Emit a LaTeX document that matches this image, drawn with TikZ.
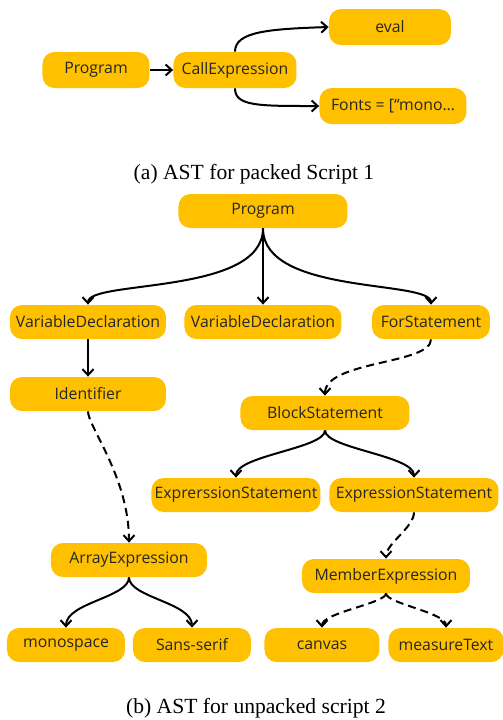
\documentclass[tikz,border=0pt]{standalone}
\usepackage{fontspec}
\setmainfont{Liberation Serif}
\newfontfamily\astfont{Open Sans}
\usepackage{tikz}
\usetikzlibrary{calc}
\usetikzlibrary{arrows.meta}

\definecolor{astgold}{HTML}{FFC000}

\begin{document}
\begin{tikzpicture}[x = 0.5pt, y = 0.5pt,
		ast/.style = {fill = astgold, rounded corners = 6pt, inner sep = 0pt, minimum height = 17pt, text = black!85, font = \astfont\fontsize{7.9}{9}\selectfont},
		edge/.style = {line width = 1pt, -{Straight Barb[length = 3pt, width = 5.5pt]}},
		dedge/.style = {edge, dash pattern = on 4pt off 2.5pt},
		caption/.style = {font = \fontsize{10.8}{12}\selectfont}]
	\useasboundingbox (0, 0) rectangle (503, -720);

	% (a) packed script
	\node[ast, minimum width = 53.5pt, minimum height = 18pt](pa) at (96, -70){Program};
	\node[ast, minimum width = 61.5pt, minimum height = 18pt](ce) at (235, -70){CallExpression};
	\node[ast, minimum width = 61pt, minimum height = 18pt](ev) at (390, -27){eval};
	\node[ast, minimum width = 73.5pt, minimum height = 18pt](fo) at (393, -106){Fonts = [“mono…};
	\draw[edge] (pa)--(ce);
	\draw[edge] (ce.north) .. controls +(0, 20) and +(-60, -2) .. (ev.west);
	\draw[edge] (ce.south) .. controls +(0, -18) and +(-60, 0) .. (fo.west);
	\node[caption](capa) at (254, -174){(a) AST for packed Script 1};

	% (b) unpacked script
	\node[ast, minimum width = 84.5pt](pb) at (263, -211){Program};
	\node[ast, minimum width = 78pt](vda) at (88, -322){VariableDeclaration};
	\node[ast, minimum width = 78.5pt](vdb) at (263, -322){VariableDeclaration};
	\node[ast, minimum width = 59pt](fs) at (431, -322){ForStatement};
	\node[ast, minimum width = 78pt](id) at (88, -394){Identifier};
	\node[ast, minimum width = 84.5pt](bs) at (325, -413){BlockStatement};
	\node[ast, minimum width = 84.5pt](esa) at (236, -495){ExprerssionStatement};
	\node[ast, minimum width = 84.5pt](esb) at (414, -495){ExpressionStatement};
	\node[ast, minimum width = 78pt](ae) at (129, -560){ArrayExpression};
	\node[ast, minimum width = 84pt](me) at (386, -576){MemberExpression};
	\node[ast, minimum width = 59pt](ms) at (66, -645){monospace};
	\node[ast, minimum width = 59pt](ss) at (192, -645){Sans-serif};
	\node[ast, minimum width = 57.5pt](cv) at (322, -645){canvas};
	\node[ast, minimum width = 57.5pt](mt) at (446, -645){measureText};

	\draw[edge] (pb.south) .. controls +(0, -67) and +(0, 25) .. (vda.north);
	\draw[edge] (pb.south)--(vdb.north);
	\draw[edge] (pb.south) .. controls +(0, -67) and +(0, 25) .. (fs.north);
	\draw[edge] (vda)--(id);
	\draw[dedge] (fs.south) .. controls +(0, -25) and +(0, 35) .. (bs.north);
	\draw[dedge] (id.south) .. controls +(0, -15) and +(0, 65) .. (ae.north);
	\draw[edge] (bs.south) .. controls +(0, -18) and +(0, 22) .. (esa.north);
	\draw[edge] (bs.south) .. controls +(0, -18) and +(0, 22) .. (esb.north);
	\draw[dedge] (esb.south) .. controls +(0, -15) and +(0, 15) .. (me.north);
	\draw[edge] (ae.south) .. controls +(0, -20) and +(0, 25) .. (ms.north);
	\draw[edge] (ae.south) .. controls +(0, -20) and +(0, 25) .. (ss.north);
	\draw[dedge] (me.south) .. controls +(0, -10) and +(0, 15) .. (cv.north);
	\draw[dedge] (me.south) .. controls +(0, -10) and +(0, 15) .. (mt.north);
	\node[caption](capb) at (256, -708){(b) AST for unpacked script 2};
\end{tikzpicture}
\end{document}
